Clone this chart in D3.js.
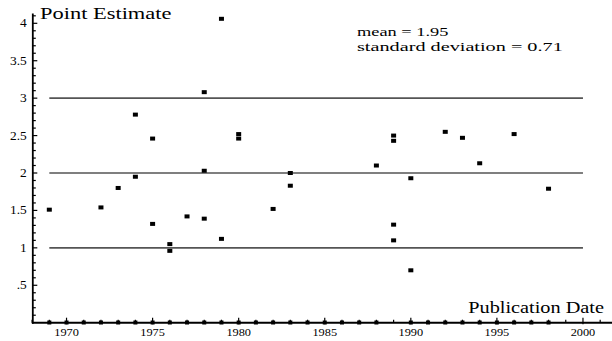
<!DOCTYPE html>
<html>
<head>
<meta charset="utf-8">
<script src="https://cdn.jsdelivr.net/npm/d3@7"></script>
<style>
  html, body { margin: 0; padding: 0; background: #fff; }
  svg { display: block; }
</style>
</head>
<body>
<svg id="chart" width="612" height="341"></svg>
<script>
// ---- data ----
const pointYears  = [1969, 1972, 1973, 1974, 1974, 1975, 1975, 1976, 1976, 1977,
                     1978, 1978, 1978, 1979, 1979, 1980, 1980, 1982, 1983, 1983,
                     1988, 1989, 1989, 1989, 1989, 1990, 1990, 1992, 1993, 1994,
                     1996, 1998];
const pointValues = [1.51, 1.54, 1.80, 2.78, 1.95, 2.46, 1.32, 1.05, 0.96, 1.42,
                     3.08, 2.03, 1.39, 4.06, 1.12, 2.52, 2.46, 1.52, 2.00, 1.83,
                     2.10, 2.50, 2.43, 1.31, 1.10, 1.93, 0.70, 2.55, 2.47, 2.13,
                     2.52, 1.79];
const axisMarkYears = [1969, 1970, 1971, 1972, 1973, 1974, 1975, 1976, 1977, 1978,
                       1979, 1980, 1981, 1982, 1983, 1984, 1985, 1986, 1987, 1988,
                       1990, 1991, 1992, 1993, 1994, 1995, 1996, 1997, 1998];
const xTickLabels = [1970, 1975, 1980, 1985, 1990, 1995, 2000];
const yTickValues = [0.5, 1, 1.5, 2, 2.5, 3, 3.5, 4];
const yTickLabels = [".5", "1", "1.5", "2", "2.5", "3", "3.5", "4"];
const gridValues  = [1, 2, 3];
const statsLines  = ["mean = 1.95", "standard deviation = 0.71"];
const yTitle = "Point Estimate";
const xTitle = "Publication Date";

const FONT = '"Liberation Serif"';

// ---- scales ----
const svg = d3.select("#chart");
const x = d3.scaleLinear().domain([1968, 2002]).range([32.1, 617.4]);
const y = d3.scaleLinear().domain([0, 4]).range([322.7, 23.3]);

// gridlines
svg.append("g").selectAll("line").data(gridValues).join("line")
  .attr("x1", x(1969)).attr("x2", x(2000))
  .attr("y1", d => y(d)).attr("y2", d => y(d))
  .attr("stroke", "#555").attr("stroke-width", 1.6);

// y axis
const yAxisX = 32.8;
svg.append("line").attr("x1", yAxisX).attr("x2", yAxisX)
  .attr("y1", y(4.13)).attr("y2", y(0) + 1)
  .attr("stroke", "#000").attr("stroke-width", 1.8);
const minorY = d3.range(1, 42).map(i => i / 10);
svg.append("g").selectAll("line").data(minorY).join("line")
  .attr("x1", yAxisX).attr("x2", d => (Math.abs(d * 2 - Math.round(d * 2)) < 1e-6) ? yAxisX + 4.5 : yAxisX + 3)
  .attr("y1", d => y(d)).attr("y2", d => y(d))
  .attr("stroke", "#000").attr("stroke-width", 1.2);
svg.append("g").selectAll("text").data(yTickValues).join("text")
  .style("font-family", FONT)
  .attr("transform", d => `translate(26.8,${y(d) + 4}) scale(1.12,1)`)
  .attr("text-anchor", "end")
  .style("font-size", "12px")
  .text((d, i) => yTickLabels[i]);

// x axis
const xAxisY = y(0);
svg.append("line").attr("x1", yAxisX - 0.9).attr("x2", 612)
  .attr("y1", xAxisY).attr("y2", xAxisY)
  .attr("stroke", "#000").attr("stroke-width", 2);
const minorX = d3.range(1968, 2002);
svg.append("g").selectAll("line").data(minorX).join("line")
  .attr("x1", d => x(d)).attr("x2", d => x(d))
  .attr("y1", d => d % 5 === 0 ? xAxisY - 5 : xAxisY - 3)
  .attr("y2", d => d % 5 === 0 ? xAxisY + 1.5 : xAxisY)
  .attr("stroke", "#000").attr("stroke-width", 1.2);
svg.append("g").selectAll("rect").data(axisMarkYears).join("rect")
  .attr("x", d => x(d) - 2).attr("y", xAxisY - 2.2)
  .attr("width", 4).attr("height", 4)
  .attr("fill", "#000");
svg.append("g").selectAll("text").data(xTickLabels).join("text")
  .style("font-family", FONT)
  .attr("transform", d => `translate(${x(d)},335.5) scale(1.12,1)`)
  .attr("text-anchor", "middle")
  .style("font-size", "11px")
  .text(d => d);

// points
svg.append("g").selectAll("rect").data(pointYears).join("rect")
  .attr("x", d => x(d) - 2.5)
  .attr("y", (d, i) => y(pointValues[i]) - 2)
  .attr("width", 5).attr("height", 4)
  .attr("fill", "#000");

// titles (horizontally widened, as in the reference)
svg.append("text")
  .style("font-family", FONT)
  .style("font-size", "16.5px")
  .attr("transform", "translate(40,18.5) scale(1.36,1)")
  .text(yTitle);
svg.append("text")
  .style("font-family", FONT)
  .style("font-size", "16.5px")
  .attr("text-anchor", "end")
  .attr("transform", "translate(604,313) scale(1.23,1)")
  .text(xTitle);

// stats
const statsScales = [1.36, 1.50];
svg.append("g").selectAll("text").data(statsLines).join("text")
  .style("font-family", FONT)
  .style("font-size", "13.5px")
  .attr("transform", (d, i) => `translate(357,${36 + i * 14.5}) scale(${statsScales[i]},1)`)
  .text(d => d);
</script>
</body>
</html>
